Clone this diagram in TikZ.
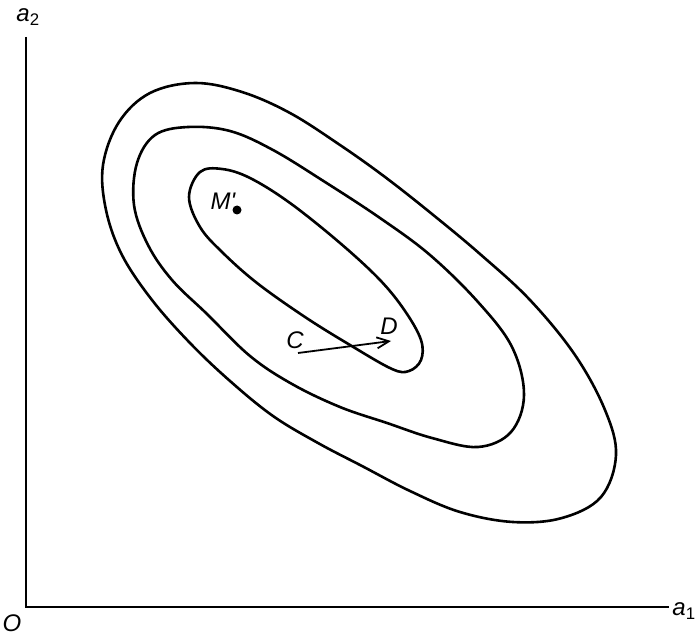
\documentclass[tikz,border=0pt]{standalone}
\usepackage{fontspec}
\setmainfont{Liberation Sans}
\usepackage{tikz}
\usetikzlibrary{positioning, arrows.meta}
\definecolor{inkblack}{RGB}{0,0,0}
\tikzset{
  contour/.style={draw=inkblack, line width=2.6pt},
  axis/.style={draw=inkblack, line width=1.8pt},
  lbl/.style={font=\fontsize{24}{26}\selectfont\itshape, text=inkblack, inner sep=0pt},
  arrow/.style={-{Straight Barb[length=12pt, width=11pt]}, line width=1.8pt, inkblack},
  dot/.style={circle, fill=inkblack, inner sep=0pt, minimum size=9pt}
}

\begin{document}
\begin{tikzpicture}[x=1pt, y=-1pt]
  \useasboundingbox (0,0) rectangle (695,636);
  \coordinate (origin) at (26,607);
  \coordinate (yend) at (26,37);
  \coordinate (xend) at (669,607);
  \draw[axis] (yend) -- (origin) -- (xend);
  \node[lbl] (ytxt) at (28,17) {a\textsubscript{\upshape 2}};
  \node[lbl] (xtxt) at (684,611) {a\textsubscript{\upshape 1}};
  \node[lbl] (otxt) at (12,623) {O};
  \draw[contour] plot[smooth cycle, tension=0.6] coordinates {
    (150,93) (195,83) (242,92) (290,113) (340,145) (385,177) (432,214)
    (480,254) (530,300) (575,355) (605,410) (616,455) (601,497) (562,518)
    (513,522) (460,512) (410,491) (362,466) (318,443) (273,416) (230,381)
    (190,343) (152,300) (122,255) (106,210) (103,165) (119,122)};
  \draw[contour] plot[smooth cycle, tension=0.6] coordinates {
    (155,135) (188,127) (230,131) (273,150) (325,182) (380,218) (430,255)
    (478,302) (512,347) (524,395) (511,432) (478,447) (432,438) (387,423)
    (340,407) (292,384) (250,356) (207,314) (172,280) (148,245) (134,205)
    (137,163)};
  \draw[contour] plot[smooth cycle, tension=0.6] coordinates {
    (200,172) (222,169) (250,178) (290,203) (340,243) (380,280) (405,311)
    (421,340) (421,360) (409,371) (392,369) (350,345) (305,317) (257,283)
    (222,252) (200,227) (189,197)};
  \node[dot] (mdot) at (237,210) {};
  \node[lbl] (mtxt) at (223,201) {M\textquotesingle};
  \node[lbl] (ctxt) at (295,340) {C};
  \node[lbl] (dtxt) at (389,326) {D};
  \coordinate (cstart) at (298,353);
  \coordinate (dend) at (391,341);
  \draw[arrow] (cstart) -- (dend);
\end{tikzpicture}
\end{document}
